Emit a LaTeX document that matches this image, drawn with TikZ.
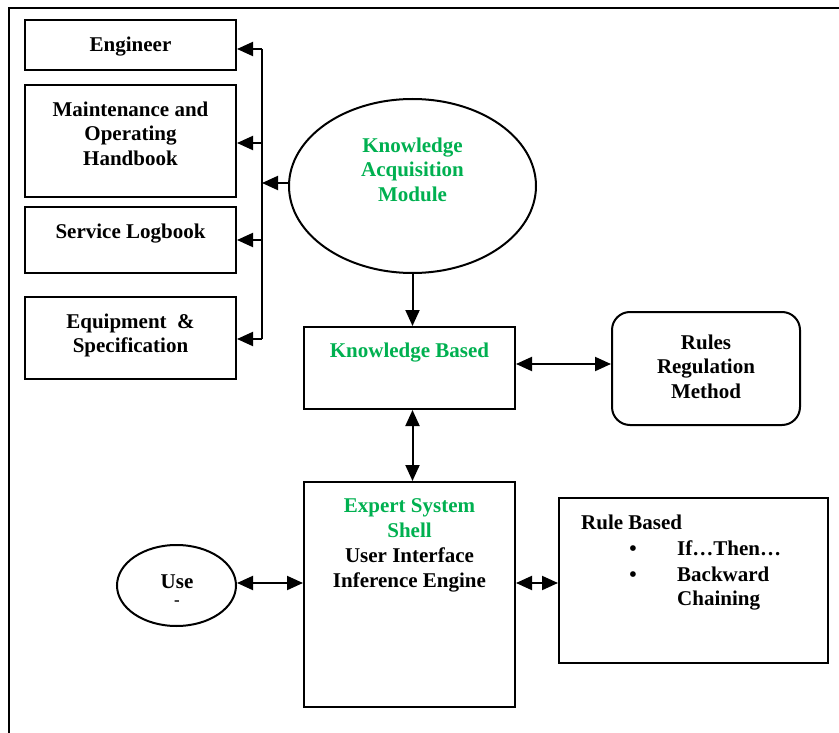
\documentclass[tikz,border=0pt]{standalone}
\usepackage{fontspec}
\setmainfont{Liberation Serif}
\usetikzlibrary{arrows.meta,shapes.geometric}
\definecolor{kgreen}{RGB}{0,176,80}

\begin{document}
\begin{tikzpicture}[x=1pt,y=-1pt,
  box/.style={draw, line width=2pt, rectangle, inner sep=0pt},
  oval/.style={draw, line width=2pt, ellipse, inner sep=0pt},
  wire/.style={line width=2pt},
  tip/.style={Triangle[length=16pt,width=14pt]},
  arr/.style={line width=2pt, -{Triangle[length=16pt,width=14pt]}},
  darr/.style={line width=2pt, {Triangle[length=16pt,width=14pt]}-{Triangle[length=16pt,width=14pt]}},
  txt/.style={font=\fontsize{21}{24.5}\selectfont\bfseries, align=center, inner sep=0pt, anchor=north},
  gtxt/.style={txt, text=kgreen}
]
\useasboundingbox (0,0) rectangle (839,733);

% outer frame (top and left edges)
\draw[wire] (839,8) -- (9,8) -- (9,733);

% knowledge sources
\node[box, minimum width=211pt, minimum height=50pt]  (eng) at (130.5,45)  {};
\node[box, minimum width=211pt, minimum height=112pt] (moh) at (130.5,141) {};
\node[box, minimum width=211pt, minimum height=66pt]  (slb) at (130.5,240) {};
\node[box, minimum width=211pt, minimum height=82pt]  (eqs) at (130.5,338) {};

\node[txt] (engt) at (130.5,36.5)  {Engineer};
\node[txt] (moht) at (130.5,101.5) {Maintenance and\\Operating\\Handbook};
\node[txt] (slbt) at (130.5,223.5) {Service Logbook};
\node[txt] (eqst) at (130.5,313.5) {Equipment~~\&\\Specification};

% acquisition module and knowledge base
\node[oval, minimum width=247pt, minimum height=174pt] (kam) at (412.5,186) {};
\node[gtxt] (kamt) at (412.5,137.5) {Knowledge\\Acquisition\\Module};

\node[box, minimum width=211pt, minimum height=82pt] (kb) at (409.5,368) {};
\node[gtxt] (kbt) at (409.5,342.5) {Knowledge Based};

\node[box, rounded corners=18pt, minimum width=188pt, minimum height=113pt] (rules) at (706,368.5) {};
\node[txt] (rulest) at (706,334.5) {Rules\\Regulation\\Method};

% expert system shell
\node[box, minimum width=211pt, minimum height=225pt] (ess) at (409.5,594.5) {};
\node[gtxt] (esst1) at (409.5,498.5) {Expert System\\Shell};
\node[txt, anchor=base] (esst2) at (409.5,562) {User Interface};
\node[txt, anchor=base] (esst3) at (409.5,587) {Inference Engine};

% user
\node[oval, minimum width=119pt, minimum height=81pt] (use) at (176.5,585.5) {};
\node[txt, anchor=base] (uset) at (177,588) {Use};
\node[font=\fontsize{17}{17}\selectfont\bfseries, inner sep=0pt] (used) at (177,603) {-};

% rule base
\node[box, minimum width=269pt, minimum height=165pt] (rb) at (693.5,580.5) {};
\node[txt, anchor=base west] (rbt) at (581,529) {Rule Based};
\node[txt, anchor=base] (bul1) at (633,555) {\textbullet};
\node[txt, anchor=base] (bul2) at (633,581) {\textbullet};
\node[txt, anchor=base west] (rbi1) at (677,555) {If…Then…};
\node[txt, anchor=base west] (rbi2) at (677,581) {Backward};
\node[txt, anchor=base west] (rbi3) at (677,605.5) {Chaining};

% distribution bus to the sources
\coordinate (b1) at (262,49);
\coordinate (b2) at (262,143);
\coordinate (b3) at (262,240);
\coordinate (b4) at (262,339);
\draw[wire] (b1) -- (b4);
\foreach \b/\n in {b1/eng,b2/moh,b3/slb,b4/eqs}
  \draw[arr] (\b) -- (\b -| \n.east);
\draw[arr] ([yshift=3pt]kam.west) -- ([yshift=3pt]kam.west -| b1);

% main flow
\draw[arr] (kam.south) -- (kam.south |- kb.north);
\draw[darr] (kam.south |- kb.south) -- (kam.south |- ess.north);
\draw[darr] ([yshift=4pt]kb.east) -- ([yshift=4pt]kb.east -| rules.west);
\draw[darr] ([yshift=2.5pt]use.east) -- ([yshift=2.5pt]use.east -| ess.west);
\draw[darr] ([yshift=2.5pt]use.east -| ess.east) -- ([yshift=2.5pt]use.east -| rb.west);
\end{tikzpicture}
\end{document}
